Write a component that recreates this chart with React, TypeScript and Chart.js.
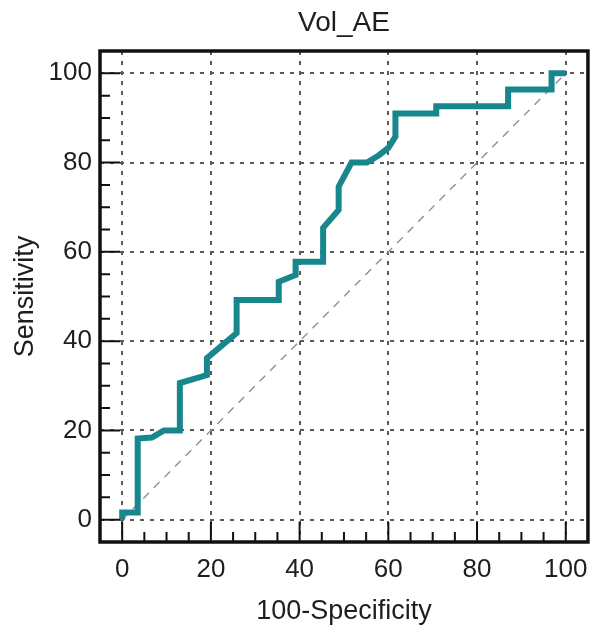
import React, { useEffect, useRef } from "react";
import { Chart, registerables } from "chart.js";

Chart.register(...registerables);

const chartTitle = "Vol_AE";
const xAxisTitle = "100-Specificity";
const yAxisTitle = "Sensitivity";

// ROC curve points (100-Specificity, Sensitivity)
const fprValues = [0, 0, 3.5, 3.5, 6.7, 9.4, 13, 13, 19.1, 19.1, 25.8, 25.8, 35.3, 35.3, 39.1, 39.1, 45.3, 45.3, 48.8, 48.8, 51.7, 55.2, 57.8, 60, 61.6, 61.6, 70.8, 70.8, 87, 87, 96.8, 96.8, 100];
const tprValues = [0, 1.6, 1.6, 18.2, 18.4, 20, 20, 30.6, 32.4, 36.2, 41.8, 49.2, 49.2, 53.3, 54.8, 57.8, 57.8, 65.4, 69.4, 74.6, 80, 80, 81.6, 83.3, 85.8, 91, 91, 92.6, 92.6, 96.4, 96.4, 100, 100];

// reference diagonal
const diagX = [0, 100];
const diagY = [0, 100];

const majorTicks = [0, 20, 40, 60, 80, 100];
const minorTicks = [0, 5, 10, 15, 20, 25, 30, 35, 40, 45, 50, 55, 60, 65, 70, 75, 80, 85, 90, 95, 100];

const FONT = "'Liberation Sans', Arial, Helvetica, sans-serif";
const TEXT = "#1e1e1e";

const framePlugin = {
  id: "frameTicks",
  afterDraw(chart: any) {
    const { ctx, chartArea, scales } = chart;
    const { left, right, top, bottom } = chartArea;
    const x = scales.x;
    const y = scales.y;
    ctx.save();
    ctx.strokeStyle = "#111";
    ctx.lineWidth = 2;
    ctx.beginPath();
    minorTicks.forEach((v) => {
      const len = majorTicks.includes(v) ? 20 : 10;
      const px = x.getPixelForValue(v);
      ctx.moveTo(px, bottom);
      ctx.lineTo(px, bottom - len);
      const py = y.getPixelForValue(v);
      ctx.moveTo(left, py);
      ctx.lineTo(left + len, py);
    });
    ctx.stroke();
    ctx.lineWidth = 3.5;
    ctx.strokeRect(left, top, right - left, bottom - top);
    ctx.restore();
  },
};

export default function App() {
  const canvasRef = useRef<HTMLCanvasElement>(null);

  useEffect(() => {
    document.body.style.margin = "0";
    const canvas = canvasRef.current;
    if (!canvas) return;
    Chart.defaults.font.family = FONT;
    const setTicks = (scale: any) => {
      scale.ticks = majorTicks.map((v) => ({ value: v }));
    };
    const chart = new Chart(canvas, {
      type: "line",
      data: {
        datasets: [
          {
            data: fprValues.map((v, i) => ({ x: v, y: tprValues[i] })),
            borderColor: "#18878d",
            borderWidth: 6,
            pointRadius: 0,
            tension: 0,
            fill: false,
            borderJoinStyle: "miter",
          },
          {
            data: diagX.map((v, i) => ({ x: v, y: diagY[i] })),
            borderColor: "#8f8f8f",
            borderWidth: 1.4,
            borderDash: [8, 7],
            pointRadius: 0,
            fill: false,
          },
        ],
      },
      options: {
        responsive: false,
        animation: false,
        layout: { padding: { left: 0, right: 10, top: 0, bottom: 0 } },
        plugins: {
          legend: { display: false },
          tooltip: { enabled: false },
          title: { display: false },
        },
        scales: {
          x: {
            type: "linear",
            position: "bottom",
            min: -5,
            max: 105,
            afterBuildTicks: setTicks,
            afterFit: (s: any) => {
              s.height = 88;
            },
            grid: { color: "#5a5a5a", lineWidth: 2, drawTicks: false },
            border: { display: false, dash: [4, 6] },
            ticks: { font: { size: 26 }, color: TEXT, padding: 12, maxRotation: 0 },
            title: {
              display: true,
              text: xAxisTitle,
              font: { size: 27 },
              color: TEXT,
              padding: { top: 0, bottom: 2 },
            },
          },
          xTop: {
            type: "linear",
            position: "top",
            min: -5,
            max: 105,
            afterFit: (s: any) => {
              s.height = 51;
            },
            grid: { display: false, drawTicks: false },
            border: { display: false },
            ticks: { display: false },
            title: {
              display: true,
              text: chartTitle,
              font: { size: 28 },
              color: TEXT,
              padding: { top: 6, bottom: 0 },
            },
          },
          y: {
            type: "linear",
            min: -5,
            max: 105,
            afterBuildTicks: setTicks,
            afterFit: (s: any) => {
              s.width = 100;
            },
            grid: { color: "#5a5a5a", lineWidth: 2, drawTicks: false },
            border: { display: false, dash: [4, 6] },
            ticks: { font: { size: 26 }, color: TEXT, padding: 8 },
            title: {
              display: true,
              text: yAxisTitle,
              font: { size: 27 },
              color: TEXT,
              padding: { top: 9, bottom: 0 },
            },
          },
        },
      } as any,
      plugins: [framePlugin],
    });
    return () => chart.destroy();
  }, []);

  return (
    <div style={{ position: "absolute", left: 0, top: 0, width: 600, height: 630, background: "#fff" }}>
      <canvas ref={canvasRef} width={600} height={630} />
    </div>
  );
}
